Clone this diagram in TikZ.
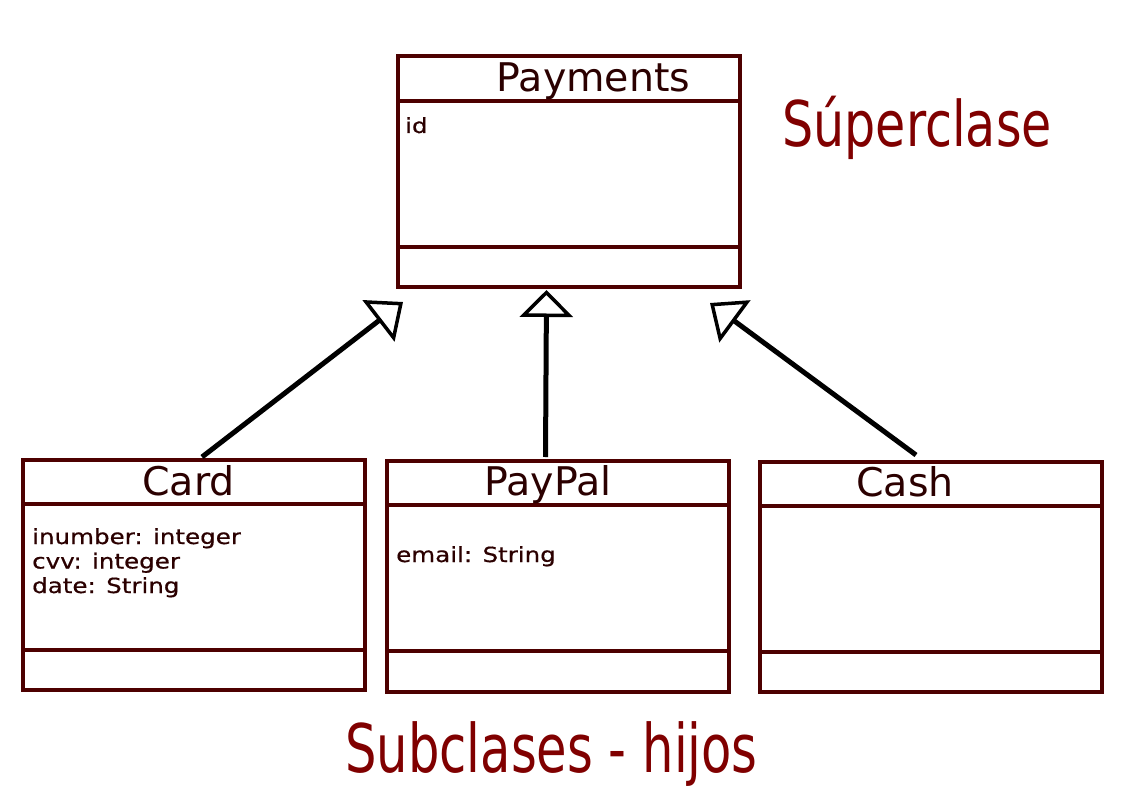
\documentclass[tikz,border=0pt]{standalone}
\usepackage{fontspec}
\setmainfont{DejaVu Sans}
\newfontfamily\attrfont[FakeStretch=1.18,FakeBold=0.6]{DejaVu Sans}
\newfontfamily\superfont[FakeStretch=0.78]{DejaVu Sans}
\newfontfamily\subfont[FakeStretch=0.74]{DejaVu Sans}
\usetikzlibrary{arrows.meta}
\definecolor{boxline}{HTML}{4D0000}
\definecolor{boxtext}{HTML}{2B0000}
\definecolor{labelred}{HTML}{800000}
\begin{document}
\begin{tikzpicture}[x=1pt,y=-1pt,
  classbox/.style={draw=boxline, line width=4pt, minimum width=342pt, inner sep=0pt},
  divider/.style={draw=boxline, line width=4pt},
  classname/.style={anchor=base, inner sep=0pt, text=boxtext, font=\fontsize{39.5}{47}\selectfont},
  attr/.style={anchor=base west, inner sep=0pt, text=boxtext, font=\attrfont\fontsize{20.8}{24.5}\selectfont},
  inherit/.style={draw=black, line width=5pt, -{Triangle[open, length=31pt, width=52pt, line width=3.5pt]}},
  inheritshort/.style={draw=black, line width=5pt, -{Triangle[open, length=27pt, width=53pt, line width=3.5pt]}},
  biglabel/.style={anchor=base, inner sep=0pt, text=labelred}]
\path[use as bounding box, fill=white] (0,0) rectangle (1123,794);

% Payments
\node[classbox, minimum height=231pt] (pay) at (569,171.5) {};
\draw[divider] (398,101) -- (740,101);
\draw[divider] (398,247) -- (740,247);
\node[classname] (payT) at (593.5,92) {Payments};
\node[attr] (payA) at (405,133) {id};

% Card
\node[classbox, minimum height=230pt] (card) at (194,575) {};
\draw[divider] (23,504) -- (365,504);
\draw[divider] (23,650) -- (365,650);
\node[classname] (cardT) at (188.5,495) {Card};
\node[attr] (cardA1) at (32,544) {inumber: integer};
\node[attr] (cardA2) at (32,568.5) {cvv: integer};
\node[attr] (cardA3) at (32,593) {date: String};

% PayPal
\node[classbox, minimum height=231pt] (paypal) at (558,576.5) {};
\draw[divider] (387,505) -- (729,505);
\draw[divider] (387,651) -- (729,651);
\node[classname] (paypalT) at (548,495) {PayPal};
\node[attr] (paypalA) at (396,562) {email: String};

% Cash
\node[classbox, minimum height=230pt] (cash) at (931,577) {};
\draw[divider] (760,506) -- (1102,506);
\draw[divider] (760,652) -- (1102,652);
\node[classname] (cashT) at (905,496) {Cash};

% inheritance connectors
\coordinate (cardS) at (202,457);
\coordinate (cardE) at (403,302);
\coordinate (paypalS) at (545.5,457);
\coordinate (paypalE) at (546.5,290);
\coordinate (cashS) at (916,455);
\coordinate (cashE) at (710,303);
\draw[inherit] (cardS) -- (cardE);
\draw[inheritshort] (paypalS) -- (paypalE);
\draw[inherit] (cashS) -- (cashE);

% labels
\node[biglabel, font=\superfont\fontsize{63}{75}\selectfont] (super) at (917,147) {Súperclase};
\node[biglabel, font=\subfont\fontsize{67}{80}\selectfont] (sub) at (551.5,772) {Subclases - hijos};
\end{tikzpicture}
\end{document}
